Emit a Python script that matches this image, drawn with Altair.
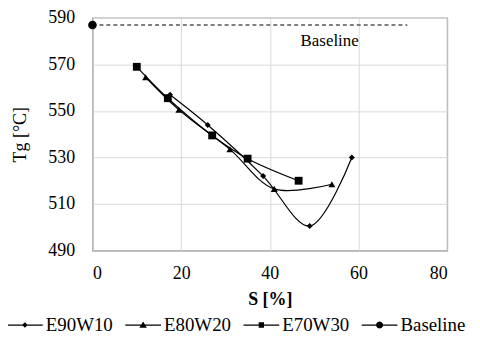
import altair as alt
import pandas as pd

# ---- data ----
s_e90 = [17.5, 26, 38.5, 49, 58.5]
tg_e90 = [557, 544, 522, 500.5, 530]
s_e80 = [12, 19.5, 31, 41, 54]
tg_e80 = [564.5, 550.5, 533.5, 516.5, 518.5]
s_e70 = [10, 17, 27, 35, 46.5]
tg_e70 = [569, 555.5, 539.5, 529.5, 520]
s_base = [0, 71]
tg_base = [587, 587]
series = ["E90W10", "E80W20", "E70W30", "Baseline"]
x_ticks = [0, 20, 40, 60, 80]
y_ticks = [490, 510, 530, 550, 570, 590]
note_text = ["Baseline"]
note_s = [53.5]
note_tg = [580]

rows = []
for name, xs, ys in [("E90W10", s_e90, tg_e90), ("E80W20", s_e80, tg_e80),
                     ("E70W30", s_e70, tg_e70)]:
    for a, b in zip(xs, ys):
        rows.append({"series": name, "S": a, "Tg": b})
curves = pd.DataFrame(rows)
markers = pd.concat([curves, pd.DataFrame([{"series": "Baseline", "S": s_base[0], "Tg": tg_base[0]}])],
                    ignore_index=True)
base = pd.DataFrame({"series": "Baseline", "S": s_base, "Tg": tg_base})
note = pd.DataFrame({"t": note_text, "S": note_s, "Tg": note_tg})

FONT = "Liberation Serif"
xs = alt.X("S:Q", scale=alt.Scale(domain=[0, 80], nice=False),
           axis=alt.Axis(values=x_ticks, title="S [%]", ticks=False, labelPadding=14,
                         titlePadding=8, titleFontWeight="bold", grid=True,
                         labelFont=FONT, titleFont=FONT, labelFontSize=18, titleFontSize=18))
ys = alt.Y("Tg:Q", scale=alt.Scale(domain=[490, 590], nice=False, zero=False),
           axis=alt.Axis(values=y_ticks, title="Tg [°C]", ticks=False, labelPadding=18,
                         titlePadding=18, titleFontWeight="normal", grid=True,
                         labelFont=FONT, titleFont=FONT, labelFontSize=18, titleFontSize=18))

lines = alt.Chart(curves).mark_line(interpolate="catmull-rom", color="black", strokeWidth=1.2).encode(
    x=xs, y=ys, detail="series:N")

dash = alt.Chart(base).mark_line(color="black", strokeWidth=1.1, strokeDash=[4, 3]).encode(
    x="S:Q", y="Tg:Q")

pts = alt.Chart(markers).mark_point(filled=True, color="black", opacity=1).encode(
    x="S:Q", y="Tg:Q",
    shape=alt.Shape("series:N", scale=alt.Scale(domain=series,
                    range=["diamond", "triangle-up", "square", "circle"]), legend=None),
    size=alt.Size("series:N", scale=alt.Scale(domain=series, range=[36, 75, 42, 70]), legend=None))

txt = alt.Chart(note).mark_text(font=FONT, fontSize=17, color="black").encode(
    x="S:Q", y="Tg:Q", text="t:N")

line_part = "M-1,-0.035H1V0.035H-1Z "
circle_part = ("M0.2,0L0.173,0.1L0.1,0.173L0,0.2L-0.1,0.173L-0.173,0.1L-0.2,0L-0.173,-0.1"
               "L-0.1,-0.173L0,-0.2L0.1,-0.173L0.173,-0.1Z")
legend_paths = [
    line_part + "M0,-0.16L0.16,0L0,0.16L-0.16,0Z",
    line_part + "M0,-0.2L0.21,0.15L-0.21,0.15Z",
    line_part + "M-0.15,-0.15H0.15V0.15H-0.15Z",
    line_part + circle_part,
]

leg = alt.Chart(markers).transform_filter("false").mark_point(filled=True, color="black").encode(
    x="S:Q", y="Tg:Q",
    shape=alt.Shape("series:N", scale=alt.Scale(domain=series, range=legend_paths),
                    legend=alt.Legend(title=None, orient="none", direction="horizontal",
                                      legendX=-86, legendY=291, symbolSize=1296,
                                      symbolFillColor="black", symbolStrokeWidth=0,
                                      labelFont=FONT, labelFontSize=19, labelColor="black",
                                      labelOffset=3, columnPadding=12, symbolOpacity=1)))

chart = alt.layer(lines, dash, pts, txt, leg).resolve_scale(shape="independent", size="independent").properties(
    width=357, height=234, autosize=alt.AutoSizeParams(type="none"),
    padding={"left": 85, "top": 9, "right": 25, "bottom": 85},
).configure(font=FONT).configure_view(stroke="#404040", strokeWidth=1.2).configure_axis(
    labelColor="black", titleColor="black", gridColor="#d9d9d9", gridWidth=1,
    domainColor="#c8c8c8", domainWidth=1.2,
)

chart.save("out.html", embed_options={"renderer": "svg", "actions": False})
